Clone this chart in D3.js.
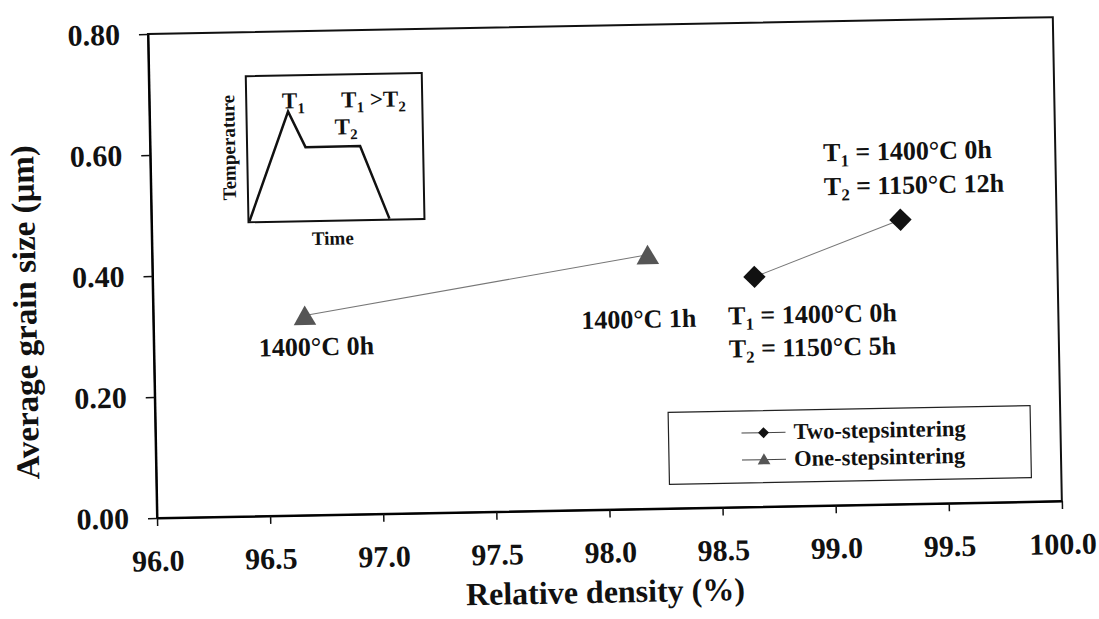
<!DOCTYPE html>
<html>
<head>
<meta charset="utf-8">
<script src="https://cdn.jsdelivr.net/npm/d3@7"></script>
<style>
body { margin: 0; background: #fff; }
text { font-family: "Liberation Serif", "Times New Roman", serif; font-weight: bold; fill: #111; }
</style>
</head>
<body>
<div id="contents"></div>
<script>
// data
var xTicks = [96.0, 96.5, 97.0, 97.5, 98.0, 98.5, 99.0, 99.5, 100.0];
var yTicks = [0.00, 0.20, 0.40, 0.60, 0.80];
var oneStep = [[96.67, 0.33], [98.19, 0.42]];
var twoStep = [[98.66, 0.38], [99.31, 0.47]];
var oneStepLabels = ["1400°C 0h", "1400°C 1h"];
var twoStepLabels = [["T1 = 1400°C 0h", "T2 = 1150°C 5h"], ["T1 = 1400°C 0h", "T2 = 1150°C 12h"]];
var seriesNames = ["Two-stepsintering", "One-stepsintering"];
// inset sintering profile (time, temperature), arbitrary units
var profile = [[0, 0], [0.29, 1.0], [0.41, 0.67], [0.80, 0.67], [1.0, 0]];

var W = 1099, H = 619;
var svg = d3.select("#contents").append("svg").attr("width", W).attr("height", H);

// the scanned figure is tilted a little
var g = svg.append("g").attr("transform", "rotate(-1.07 157 518)");

var x = d3.scaleLinear().domain([96, 100]).range([157, 1062]);
var y = d3.scaleLinear().domain([0, 0.8]).range([518, 34]);

// frame
g.append("rect")
	.attr("x", x(96)).attr("y", y(0.8))
	.attr("width", x(100) - x(96)).attr("height", y(0) - y(0.8))
	.attr("fill", "none").attr("stroke", "#111").attr("stroke-width", 2);

var xAxis = g.append("g")
	.attr("transform", "translate(0," + y(0) + ")")
	.call(d3.axisBottom(x).tickValues(xTicks).tickFormat(d3.format(".1f")).tickSize(8).tickSizeOuter(0));
xAxis.selectAll("text").style("font-size", "30px").attr("fill", "#111").attr("y", 53).attr("dy", 0);
xAxis.select(".domain").attr("stroke-width", 2);

var yAxis = g.append("g")
	.attr("transform", "translate(" + x(96) + ",0)")
	.call(d3.axisLeft(y).tickValues(yTicks).tickFormat(d3.format(".2f")).tickSize(9).tickSizeOuter(0).tickPadding(19));
yAxis.selectAll("text").style("font-size", "30px").attr("fill", "#111");
yAxis.select(".domain").attr("stroke-width", 2);
g.selectAll(".tick line").attr("stroke-width", 1.5).attr("stroke", "#111");

// titles
g.append("text")
	.attr("x", 604).attr("y", 611)
	.attr("text-anchor", "middle").style("font-size", "32px")
	.text("Relative density (%)");
g.append("text")
	.attr("transform", "translate(40,310) rotate(-90)")
	.attr("text-anchor", "middle").style("font-size", "33px")
	.text("Average grain size (μm)");

var line = d3.line().x(function(d) { return x(d[0]); }).y(function(d) { return y(d[1]); });
var triangle = d3.symbol().type(d3.symbolTriangle).size(220);
var diamond = d3.symbol().type(d3.symbolSquare).size(250);

g.append("path").attr("d", line(oneStep)).attr("fill", "none").attr("stroke", "#777").attr("stroke-width", 1);
g.append("path").attr("d", line(twoStep)).attr("fill", "none").attr("stroke", "#777").attr("stroke-width", 1);

g.selectAll(".tri").data(oneStep).enter().append("path")
	.attr("class", "tri")
	.attr("transform", function(d) { return "translate(" + x(d[0]) + "," + (y(d[1]) + 3) + ")"; })
	.attr("d", triangle).attr("fill", "#555");

g.selectAll(".dia").data(twoStep).enter().append("path")
	.attr("class", "dia")
	.attr("transform", function(d) { return "translate(" + x(d[0]) + "," + y(d[1]) + ") rotate(45)"; })
	.attr("d", diamond).attr("fill", "#111");

// writes "T1 = ..." with subscript digit
function subText(p, s, px, py, size, anchor) {
	var t = p.append("text").attr("x", px).attr("y", py)
		.attr("text-anchor", anchor || "start").style("font-size", size + "px");
	var parts = s.split(/T(\d)/);
	t.append("tspan").text(parts[0]);
	for (var i = 1; i < parts.length; i += 2) {
		t.append("tspan").text("T");
		t.append("tspan").attr("dy", size * 0.22).style("font-size", (size * 0.65) + "px").text(parts[i]);
		t.append("tspan").attr("dy", -size * 0.22).text(parts[i + 1]);
	}
	return t;
}

// point labels
var oneOff = [[11, 40], [-10, 73]];
oneStepLabels.forEach(function(s, i) {
	g.append("text")
		.attr("x", x(oneStep[i][0]) + oneOff[i][0]).attr("y", y(oneStep[i][1]) + oneOff[i][1])
		.attr("text-anchor", "middle").style("font-size", "26px").text(s);
});
var twoOff = [[-27, 47, 80], [-76, -60, -26]];
twoStepLabels.forEach(function(pair, i) {
	subText(g, pair[0], x(twoStep[i][0]) + twoOff[i][0], y(twoStep[i][1]) + twoOff[i][1], 26);
	subText(g, pair[1], x(twoStep[i][0]) + twoOff[i][0], y(twoStep[i][1]) + twoOff[i][2], 26);
});

// legend
var leg = g.append("g").attr("transform", "translate(670,422)");
leg.append("rect").attr("width", 362).attr("height", 72)
	.attr("fill", "#fff").attr("stroke", "#222").attr("stroke-width", 1.2);
[22, 49].forEach(function(ly, i) {
	leg.append("line").attr("x1", 73).attr("x2", 117).attr("y1", ly).attr("y2", ly)
		.attr("stroke", "#444").attr("stroke-width", 1);
	if (i == 0)
		leg.append("path").attr("transform", "translate(95," + ly + ") rotate(45)")
			.attr("d", d3.symbol().type(d3.symbolSquare).size(60)).attr("fill", "#111");
	else
		leg.append("path").attr("transform", "translate(95," + (ly + 1) + ")")
			.attr("d", d3.symbol().type(d3.symbolTriangle).size(70)).attr("fill", "#555");
	leg.append("text").attr("x", 125).attr("y", ly + 7).style("font-size", "22.5px")
		.text(seriesNames[i]);
});

// inset: temperature profile
var ix = d3.scaleLinear().domain([0, 1]).range([255, 395]);
var iy = d3.scaleLinear().domain([0, 1]).range([223, 114]);
var inset = g.append("g");
inset.append("rect").attr("x", 254).attr("y", 78).attr("width", 176).attr("height", 146)
	.attr("fill", "#fff").attr("stroke", "#111").attr("stroke-width", 2);
inset.append("path")
	.attr("d", d3.line().x(function(d) { return ix(d[0]); }).y(function(d) { return iy(d[1]); })(profile))
	.attr("fill", "none").attr("stroke", "#111").attr("stroke-width", 2.5);
subText(inset, "T1", ix(profile[1][0]) - 6, 111, 23);
subText(inset, "T2", 342, 138, 23);
subText(inset, "T1 >T2", 349, 111, 23);
inset.append("text").attr("transform", "translate(242,149) rotate(-90)")
	.attr("text-anchor", "middle").style("font-size", "19px").text("Temperature");
inset.append("text").attr("x", 338).attr("y", 248)
	.attr("text-anchor", "middle").style("font-size", "19px").text("Time");
</script>
</body>
</html>
